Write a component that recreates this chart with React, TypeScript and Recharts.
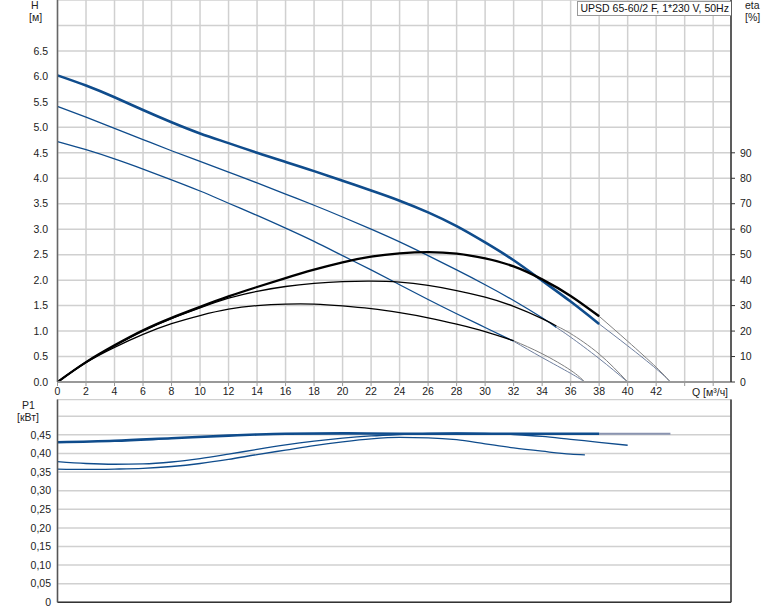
import { LineChart, Line, XAxis, YAxis, CartesianGrid, ReferenceLine } from 'recharts'

// Q axis (m³/h)
const qTicks = [0, 2, 4, 6, 8, 10, 12, 14, 16, 18, 20, 22, 24, 26, 28, 30, 32, 34, 36, 38, 40, 42, 44, 46]
const hTicks = [0, 0.5, 1, 1.5, 2, 2.5, 3, 3.5, 4, 4.5, 5, 5.5, 6, 6.5, 7]
const etaTicks = [0, 10, 20, 30, 40, 50, 60, 70, 80, 90]
const pTicks = [0, 0.05, 0.1, 0.15, 0.2, 0.25, 0.3, 0.35, 0.4, 0.45, 0.5]

// head curves [Q, H]
const h1Main = [[0, 6.02], [2, 5.82], [4, 5.59], [6, 5.34], [8, 5.1], [10, 4.88], [12, 4.69], [14, 4.5], [16, 4.32], [18, 4.14], [20, 3.95], [22, 3.76], [24, 3.56], [26, 3.33], [28, 3.06], [30, 2.74], [32, 2.39], [34, 1.99], [36, 1.58], [38, 1.14]]
const h1Ext = [[38, 1.14], [40, 0.71], [42, 0.26], [43, 0]]
const h2Main = [[0, 5.41], [2, 5.2], [4, 4.98], [6, 4.76], [8, 4.54], [10, 4.33], [12, 4.12], [14, 3.91], [16, 3.69], [18, 3.47], [20, 3.24], [22, 3.0], [24, 2.75], [26, 2.48], [28, 2.2], [30, 1.91], [32, 1.6], [34, 1.26], [35, 1.07]]
const h2Ext = [[35, 1.07], [36, 0.88], [38, 0.46], [40, 0]]
const h3Main = [[0, 4.72], [2, 4.56], [4, 4.38], [6, 4.18], [8, 3.97], [10, 3.75], [12, 3.51], [14, 3.27], [16, 3.02], [18, 2.76], [20, 2.48], [22, 2.2], [24, 1.91], [26, 1.62], [28, 1.34], [30, 1.07], [32, 0.8]]
const h3Ext = [[32, 0.8], [34, 0.48], [36, 0.17], [37, 0]]

// efficiency curves [Q, eta %]
const e1Main = [[0, 0], [2, 7.8], [4, 14.4], [6, 20.3], [8, 25.2], [10, 29.5], [12, 33.6], [14, 37.3], [16, 40.8], [18, 44.1], [20, 47], [22, 49.2], [24, 50.5], [26, 51], [28, 50.4], [30, 48.5], [32, 45.4], [34, 40.3], [36, 33.8], [38, 25.8]]
const e1Ext = [[38, 25.8], [40, 16], [42, 5.8], [43, 0]]
const e2Main = [[0, 0], [2, 7.8], [4, 14.2], [6, 20], [8, 24.9], [10, 29.1], [12, 32.9], [14, 35.6], [16, 37.5], [18, 38.7], [20, 39.4], [22, 39.6], [24, 39.2], [26, 37.9], [28, 35.9], [30, 33.3], [32, 29.7], [34, 24.9], [35, 22]]
const e2Ext = [[35, 22], [36, 19], [38, 11], [40, 0]]
const e3Main = [[0, 0], [2, 7.6], [4, 13.6], [6, 18.7], [8, 22.9], [10, 26.1], [12, 28.6], [14, 30], [16, 30.6], [18, 30.6], [20, 29.9], [22, 28.8], [24, 27.2], [26, 25.2], [28, 22.7], [30, 19.8], [32, 16.2]]
const e3Ext = [[32, 16.2], [34, 11.1], [36, 4.6], [37, 0]]

// power curves [Q, P1 kW]
const p1Main = [[0, 0.43], [4, 0.434], [8, 0.441], [12, 0.448], [14, 0.451], [16, 0.453], [20, 0.454], [24, 0.453], [28, 0.453], [32, 0.453], [36, 0.453], [38, 0.453]]
const p1Ext = [[38, 0.453], [43, 0.453]]
const p2 = [[0, 0.378], [2, 0.373], [4, 0.371], [6, 0.372], [8, 0.377], [10, 0.386], [12, 0.398], [14, 0.411], [16, 0.423], [18, 0.433], [20, 0.441], [22, 0.447], [24, 0.451], [26, 0.454], [28, 0.455], [30, 0.454], [32, 0.451], [34, 0.446], [36, 0.438], [38, 0.43], [40, 0.422]]
const p3 = [[0, 0.358], [2, 0.357], [4, 0.358], [6, 0.36], [8, 0.365], [10, 0.373], [12, 0.384], [14, 0.397], [16, 0.409], [18, 0.421], [20, 0.431], [22, 0.439], [24, 0.443], [26, 0.442], [28, 0.437], [30, 0.426], [32, 0.415], [34, 0.406], [36, 0.398], [37, 0.396]]

const pts = (a: number[][]) => a.map(([q, v]) => ({ q, v }))

const BLUE = '#0f4c8c'
const GRID = '#d0d0d0'
const FONT = 10.5
const Q_MAX = 47.25

const lbl = (left: number, top: number, text: string) => (
  <div style={{ position: 'absolute', left, top, fontSize: FONT, lineHeight: '12px', color: '#222', whiteSpace: 'nowrap' }}>{text}</div>
)

export default function App() {
  const common = { dataKey: 'v', dot: false, isAnimationActive: false, type: 'natural' as const, activeDot: false }
  const flat = { ...common, type: 'monotone' as const }
  return (
    <div style={{ position: 'absolute', left: 0, top: 0, width: 774, height: 611, fontFamily: '"Liberation Sans", Arial, sans-serif', background: '#fff' }}>
      <div style={{ position: 'absolute', left: 0, top: 0 }}>
        <LineChart width={774} height={400} margin={{ top: 0, right: 0, bottom: 0, left: 0 }}>
          <CartesianGrid yAxisId="h" stroke={GRID} strokeWidth={1.5} />
          <XAxis
            type="number"
            dataKey="q"
            domain={[0, Q_MAX]}
            ticks={qTicks}
            interval={0}
            allowDataOverflow
            height={18}
            tickSize={4}
            tickMargin={2}
            axisLine={{ stroke: '#999', strokeWidth: 2 }}
            tickLine={{ stroke: '#999' }}
            tick={{ fontSize: FONT, fill: '#222' }}
            tickFormatter={(v: number) => (v >= 44 ? '' : String(v))}
          />
          <YAxis
            yAxisId="h"
            domain={[0, 7.5]}
            ticks={hTicks}
            interval={0}
            width={57.5}
            tickSize={0}
            tickMargin={9.5}
            tickLine={false}
            axisLine={{ stroke: '#666', strokeWidth: 1.5 }}
            tick={{ fontSize: FONT, fill: '#222' }}
            tickFormatter={(v: number) => (v >= 7 ? '' : v.toFixed(1))}
          />
          <YAxis
            yAxisId="eta"
            orientation="right"
            domain={[0, 150]}
            ticks={etaTicks}
            interval={0}
            width={43}
            tickSize={4}
            tickMargin={5}
            axisLine={{ stroke: '#333', strokeWidth: 1.5 }}
            tickLine={{ stroke: '#333' }}
            tick={{ fontSize: FONT, fill: '#222' }}
          />
          <Line {...common} yAxisId="h" data={pts(h1Ext)} stroke="#6f7f9f" strokeWidth={1} />
          <Line {...common} yAxisId="h" data={pts(h2Ext)} stroke="#6f7f9f" strokeWidth={1} />
          <Line {...common} yAxisId="h" data={pts(h3Ext)} stroke="#6f7f9f" strokeWidth={1} />
          <Line {...common} yAxisId="eta" data={pts(e1Ext)} stroke="#808080" strokeWidth={1} />
          <Line {...common} yAxisId="eta" data={pts(e2Ext)} stroke="#808080" strokeWidth={1} />
          <Line {...common} yAxisId="eta" data={pts(e3Ext)} stroke="#808080" strokeWidth={1} />
          <Line {...common} yAxisId="h" data={pts(h1Main)} stroke={BLUE} strokeWidth={2.6} />
          <Line {...common} yAxisId="h" data={pts(h2Main)} stroke={BLUE} strokeWidth={1.3} />
          <Line {...common} yAxisId="h" data={pts(h3Main)} stroke={BLUE} strokeWidth={1.3} />
          <Line {...common} yAxisId="eta" data={pts(e1Main)} stroke="#000" strokeWidth={2.3} />
          <Line {...common} yAxisId="eta" data={pts(e2Main)} stroke="#000" strokeWidth={1.3} />
          <Line {...common} yAxisId="eta" data={pts(e3Main)} stroke="#000" strokeWidth={1.3} />
        </LineChart>
      </div>
      <div style={{ position: 'absolute', left: 0, top: 399 }}>
        <LineChart width={774} height={212} margin={{ top: 0.5, right: 0, bottom: 8.7, left: 0 }}>
          <CartesianGrid stroke={GRID} strokeWidth={1.5} />
          <XAxis
            type="number"
            dataKey="q"
            domain={[0, Q_MAX]}
            ticks={qTicks}
            interval={0}
            allowDataOverflow
            orientation="top"
            height={0}
            tick={false}
            tickLine={false}
            axisLine={{ stroke: '#999', strokeWidth: 2 }}
          />
          <YAxis
            domain={[0, 0.545]}
            ticks={pTicks}
            interval={0}
            width={57.5}
            tickSize={0}
            tickMargin={6.5}
            tickLine={false}
            axisLine={{ stroke: '#555', strokeWidth: 1.5 }}
            tick={{ fontSize: FONT, fill: '#222' }}
            tickFormatter={(v: number) => (v === 0 ? '0' : v >= 0.5 ? '' : v.toFixed(2).replace('.', ','))}
          />
          <YAxis yAxisId="r" orientation="right" domain={[0, 0.545]} width={43} tick={false} tickLine={false} axisLine={{ stroke: '#333', strokeWidth: 1.5 }} />
          <ReferenceLine y={0} stroke="#333" strokeWidth={1.5} />
          <Line {...flat} data={pts(p1Ext)} stroke="#8a94b0" strokeWidth={2} />
          <Line {...flat} data={pts(p3)} stroke={BLUE} strokeWidth={1.3} />
          <Line {...flat} data={pts(p2)} stroke={BLUE} strokeWidth={1.3} />
          <Line {...flat} data={pts(p1Main)} stroke={BLUE} strokeWidth={2.6} />
        </LineChart>
      </div>
      {lbl(31, -1, 'H')}
      {lbl(29, 11, '[м]')}
      {lbl(745, -1, 'eta')}
      {lbl(745, 11, '[%]')}
      {lbl(692, 386, 'Q [м³/ч]')}
      {lbl(22, 399, 'P1')}
      {lbl(17, 411, '[кВт]')}
      <div style={{ position: 'absolute', left: 576.5, top: 1, width: 154.5, height: 15, boxSizing: 'border-box', border: '1px solid #999', borderRight: 'none', background: '#fff', fontSize: FONT, lineHeight: '13px', paddingLeft: 3, color: '#111', whiteSpace: 'nowrap' }}>
        UPSD 65-60/2 F, 1*230 V, 50Hz
      </div>
    </div>
  )
}
